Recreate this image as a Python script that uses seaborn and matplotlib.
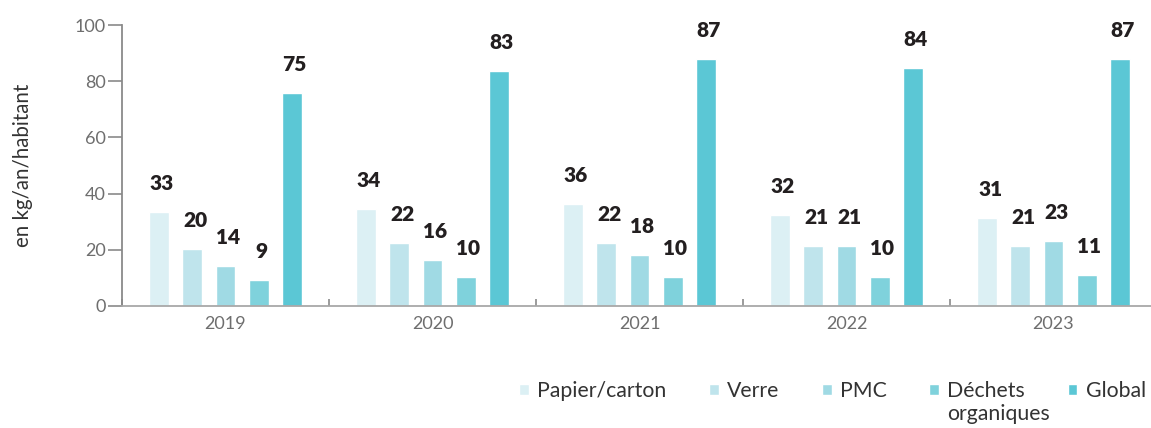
import matplotlib
matplotlib.use("Agg")
import matplotlib.pyplot as plt
from matplotlib.transforms import IdentityTransform
import seaborn as sns
import pandas as pd

# ---- data ----
years = ["2019", "2020", "2021", "2022", "2023"]
categories = ["Papier/carton", "Verre", "PMC", "Déchets", "Global"]
papier = [33.5, 34.5, 36.3, 32.4, 31.3]
verre = [20.3, 22.4, 22.4, 21.4, 21.4]
pmc = [14.2, 16.4, 18.1, 21.4, 23.1]
dechets = [9.3, 10.3, 10.3, 10.3, 11.0]
global_ = [75.8, 83.6, 87.9, 84.7, 87.9]
labels_papier = ["33", "34", "36", "32", "31"]
labels_verre = ["20", "22", "22", "21", "21"]
labels_pmc = ["14", "16", "18", "21", "23"]
labels_dechets = ["9", "10", "10", "10", "11"]
labels_global = ["75", "83", "87", "84", "87"]
yticks = [0, 20, 40, 60, 80, 100]
ylabel = "en kg/an/habitant"
legend_second_line = "organiques"
palette = ["#dcf0f4", "#bfe4ec", "#a0dae4", "#7fd2dc", "#5bc7d5"]

series = [papier, verre, pmc, dechets, global_]
series_labels = [labels_papier, labels_verre, labels_pmc, labels_dechets, labels_global]

rows = []
for cat, vals in zip(categories, series):
    for y, v in zip(years, vals):
        rows.append({"year": y, "cat": cat, "value": v})
df = pd.DataFrame(rows)

sns.set_theme(style="white")
plt.rcParams["font.family"] = ["Lato", "DejaVu Sans"]

W, H = 1151, 428
fig = plt.figure(figsize=(W / 100, H / 100), dpi=100)
ax = fig.add_axes([122 / W, (H - 306) / H, (1157 - 122) / W, (306 - 25) / H])

sns.barplot(data=df, x="year", y="value", hue="cat", order=years,
            hue_order=categories, palette=palette, gap=0.4, width=0.8,
            saturation=1, ax=ax, legend=True, errorbar=None)

handles, leg_labels = ax.get_legend_handles_labels()
ax.get_legend().remove()

for cont, labs in zip(ax.containers, series_labels):
    for bar, lab in zip(cont.patches, labs):
        ax.annotate(lab, (bar.get_x() + bar.get_width() / 2, bar.get_height()),
                    xytext=(2, 16), textcoords="offset points",
                    ha="center", va="baseline", fontsize=15,
                    fontweight="heavy", color="#231f20")

ax.set_ylim(0, 100)
ax.set_xlim(-0.5, len(years) - 0.5)
ax.set_yticks(yticks)
ax.set_ylabel(ylabel, fontsize=14.8, color="#333333", labelpad=30)
ax.set_xlabel("")

for s in ["top", "right"]:
    ax.spines[s].set_visible(False)
ax.spines["left"].set_color("#8a8a8a")
ax.spines["left"].set_linewidth(1.3)
ax.spines["bottom"].set_color("#a8a8a8")
ax.spines["bottom"].set_linewidth(1.3)

ax.tick_params(axis="y", which="major", length=10, width=1.2, color="#8a8a8a",
               labelsize=13, labelcolor="#6e6e6e", pad=1.5, left=True)
ax.tick_params(axis="x", which="major", length=0, labelsize=13,
               labelcolor="#6e6e6e", pad=7)
ax.set_xticks([i - 0.5 for i in range(len(years) + 1)], minor=True)
ax.tick_params(axis="x", which="minor", direction="in", length=5, width=1.2,
               color="#8a8a8a", bottom=True)

leg = fig.legend(handles, leg_labels, loc="center left",
                 bbox_to_anchor=(519 / W, (H - 391) / H), ncol=5,
                 frameon=False, fontsize=15.3, handlelength=0.47,
                 handleheight=0.47, handletextpad=0.38, columnspacing=2.0,
                 borderpad=0, borderaxespad=0)
for t in leg.get_texts():
    t.set_color("#333333")

fig.canvas.draw()
bb = leg.get_texts()[3].get_window_extent()
fig.text(bb.x0, bb.y0 - 3, legend_second_line, transform=IdentityTransform(),
         fontsize=15.3, color="#333333", va="top", ha="left")

fig.savefig("out.png", dpi=100)
